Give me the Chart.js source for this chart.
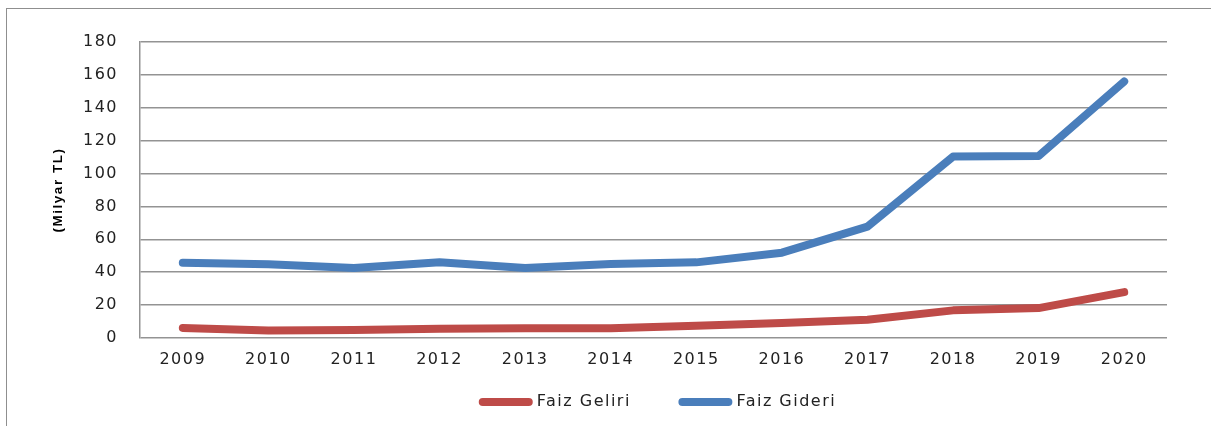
<!DOCTYPE html>
<html>
<head>
<meta charset="utf-8">
<script src="https://cdn.jsdelivr.net/npm/chart.js@4.4.0/dist/chart.umd.min.js"></script>
<style>
body{margin:0;background:#fff;overflow:hidden;}
#wrap{position:relative;width:1211px;height:426px;overflow:hidden;}
#frame{position:absolute;left:6px;top:8px;width:1300px;height:500px;border-left:1.5px solid #8f8f8f;border-top:1.5px solid #8f8f8f;}
canvas{position:absolute;left:0;top:0;}
</style>
</head>
<body>
<div id="wrap">
  <div id="frame"></div>
  <canvas id="faizChart" width="1211" height="426"></canvas>
</div>
<script>
const years = ["2009","2010","2011","2012","2013","2014","2015","2016","2017","2018","2019","2020"];
const faizGeliri = [6.1, 4.6, 4.8, 5.7, 5.9, 5.9, 7.5, 9.1, 11.1, 16.8, 18.2, 27.9];
const faizGideri = [45.7, 44.8, 42.6, 46, 42.6, 45, 46, 51.9, 67.7, 110.3, 110.7, 156];
const yMax = 180;
const yStep = 20;

const gridGray = "#939393";
const tickFont = {family: "DejaVu Sans", size: 16};

// original text is a bit wider, and the legend sits right of centre
const tweaks = {
  id: "tweaks",
  beforeLayout(chart){
    chart.ctx.letterSpacing = "1.5px";
  },
  afterLayout(chart){
    const lg = chart.legend;
    if(!lg) return;
    lg.left += 53;
    lg.right += 53;
  }
};

const ctx = document.getElementById("faizChart");

new Chart(ctx, {
  type: "line",
  data: {
    labels: years,
    datasets: [
      {
        label: "Faiz Geliri",
        data: faizGeliri,
        borderColor: "#be4b48",
        backgroundColor: "#be4b48",
        borderWidth: 8,
        borderCapStyle: "round",
        borderJoinStyle: "round",
        pointRadius: 0,
        tension: 0
      },
      {
        label: "Faiz Gideri",
        data: faizGideri,
        borderColor: "#4a7ebb",
        backgroundColor: "#4a7ebb",
        borderWidth: 8,
        borderCapStyle: "round",
        borderJoinStyle: "round",
        pointRadius: 0,
        tension: 0
      }
    ]
  },
  options: {
    responsive: false,
    animation: false,
    layout: {padding: {left: 46, right: 44, top: 42, bottom: 6}},
    plugins: {
      tooltip: {enabled: false},
      legend: {
        position: "bottom",
        labels: {
          usePointStyle: true,
          pointStyle: "line",
          pointStyleWidth: 46,
          color: "#222",
          font: {family: "DejaVu Sans", size: 16},
          padding: 12,
          generateLabels(chart){
            const items = Chart.defaults.plugins.legend.labels.generateLabels(chart);
            items.forEach((it, i) => {
              it.lineCap = "round";
              it.lineWidth = 8;
              if(i === 0) it.text += "      ";
            });
            return items;
          }
        }
      }
    },
    scales: {
      x: {
        offset: true,
        grid: {display: false, drawTicks: false},
        border: {display: false},
        ticks: {color: "#222", font: tickFont, padding: 12, maxRotation: 0},
        afterFit: s => { s.height = 44; }
      },
      y: {
        min: 0,
        max: yMax,
        grid: {color: gridGray, lineWidth: 1.5, drawTicks: false},
        border: {display: true, color: gridGray, width: 1.5},
        ticks: {stepSize: yStep, color: "#222", font: tickFont, padding: 22},
        title: {
          display: true,
          text: "(Milyar TL)",
          color: "#000",
          font: {family: "Liberation Sans", size: 13.5, weight: "bold"}
        },
        afterFit: s => { s.width = 94; }
      }
    }
  },
  plugins: [tweaks]
});
</script>
</body>
</html>
